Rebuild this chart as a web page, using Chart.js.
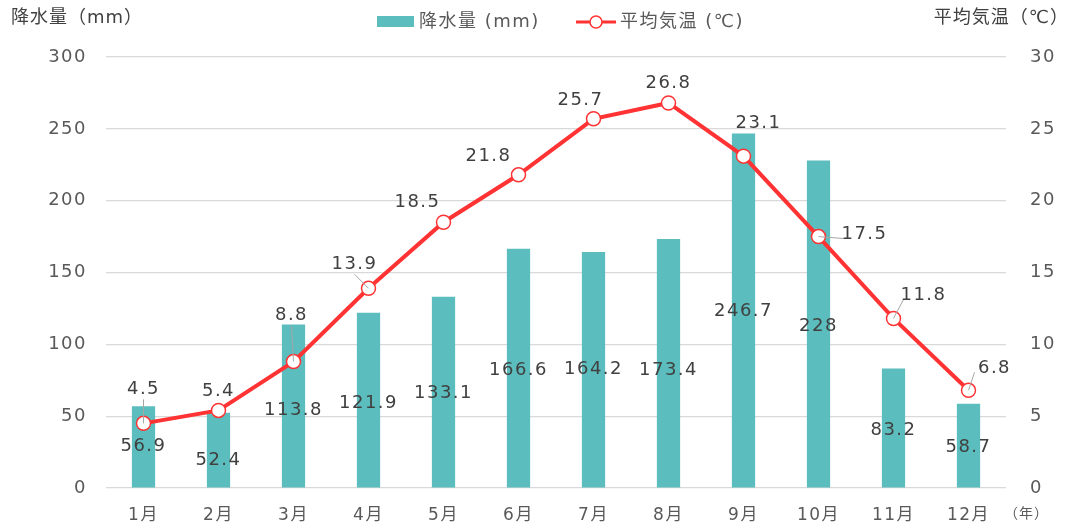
<!DOCTYPE html>
<html>
<head>
<meta charset="utf-8">
<script src="https://cdn.jsdelivr.net/npm/chart.js@4"></script>
<style>
  html, body { margin: 0; padding: 0; background: #fff; }
  #wrap { width: 1072px; height: 529px; }
</style>
</head>
<body>
<div id="wrap"><canvas id="chart"></canvas></div>
<script>
// data
const months = ["1月", "2月", "3月", "4月", "5月", "6月", "7月", "8月", "9月", "10月", "11月", "12月"];
const rainfall = [56.9, 52.4, 113.8, 121.9, 133.1, 166.6, 164.2, 173.4, 246.7, 228, 83.2, 58.7];
const avgTemp = [4.5, 5.4, 8.8, 13.9, 18.5, 21.8, 25.7, 26.8, 23.1, 17.5, 11.8, 6.8];
const rainTicks = [0, 50, 100, 150, 200, 250, 300];
const tempTicks = [0, 5, 10, 15, 20, 25, 30];

// label nudges (pixels), like moved labels in the original
const rainLabelShift = [0, 10, 4, 3, 1, 2, 0, 7, 1, 2, 2, 2];
const tempLabelShift = [[0, -34], [0, -19], [-2, -46], [-14, -24], [-26, -20], [-30, -18],
                        [-13, -18], [0, -20], [15, -33], [46, -2], [30, -23], [26, -22]];
const tempLeader = [true, false, true, true, false, false, false, false, false, true, true, true];

const FONT = "'DejaVu Sans', 'Noto Sans CJK JP', sans-serif";
const TEXT = "#404040";
const SPACING = "1.5px";

const labelPlugin = {
    id: "labels",
    beforeDraw(chart) {
        chart.ctx.letterSpacing = SPACING;
    },
    beforeLayout(chart) {
        chart.ctx.letterSpacing = SPACING;
    },
    afterDatasetsDraw(chart) {
        const ctx = chart.ctx;
        const bars = chart.getDatasetMeta(0).data;
        const pts = chart.getDatasetMeta(1).data;
        ctx.save();
        ctx.letterSpacing = SPACING;
        ctx.font = "18px " + FONT;
        ctx.fillStyle = TEXT;
        ctx.textAlign = "center";
        ctx.textBaseline = "middle";

        bars.forEach((bar, i) => {
            let y = (bar.y + bar.base) / 2 + rainLabelShift[i];
            ctx.fillText(String(rainfall[i]), bar.x, y);
        });

        pts.forEach((pt, i) => {
            let lx = pt.x + tempLabelShift[i][0];
            let ly = pt.y + tempLabelShift[i][1];
            if (tempLeader[i]) {
                // leader line from the label edge to the point
                ctx.strokeStyle = "#a6a6a6";
                ctx.lineWidth = 1;
                ctx.beginPath();
                let dx = pt.x - lx, dy = pt.y - ly;
                let sx = lx, sy = ly;
                if (Math.abs(dx) > Math.abs(dy)) { sx = lx + 20 * Math.sign(dx); sy = ly + 4 * Math.sign(dy); }
                else { sy = ly + 10 * Math.sign(dy); }
                ctx.moveTo(sx, sy);
                ctx.lineTo(pt.x, pt.y);
                ctx.stroke();
            }
            ctx.fillStyle = TEXT;
            ctx.fillText(avgTemp[i].toFixed(1), lx, ly);
        });
        ctx.restore();
    },
    afterDraw(chart) {
        const ctx = chart.ctx;
        ctx.save();
        ctx.letterSpacing = "1px";
        ctx.fillStyle = "#404040";
        ctx.font = "18px " + FONT;
        ctx.textBaseline = "middle";
        // axis titles
        ctx.textAlign = "left";
        ctx.fillText("降水量（mm）", 11, 18);
        ctx.textAlign = "right";
        ctx.fillText("平均気温（℃）", 1069, 18);
        // year mark
        ctx.fillStyle = "#595959";
        ctx.font = "14px " + FONT;
        ctx.textAlign = "left";
        ctx.fillText("（年）", 1004, 514);

        // legend
        ctx.letterSpacing = "1.5px";
        ctx.font = "18px " + FONT;
        ctx.fillStyle = "#5bbdbd";
        ctx.fillRect(377, 16, 37, 11);
        ctx.fillStyle = "#595959";
        ctx.fillText("降水量 (mm)", 419, 22);
        ctx.strokeStyle = "#ff3333";
        ctx.lineWidth = 3;
        ctx.beginPath();
        ctx.moveTo(576, 22);
        ctx.lineTo(616, 22);
        ctx.stroke();
        ctx.fillStyle = "#fff";
        ctx.lineWidth = 1.5;
        ctx.beginPath();
        ctx.arc(596, 22, 6, 0, Math.PI * 2);
        ctx.fill();
        ctx.stroke();
        ctx.fillStyle = "#595959";
        ctx.fillText("平均気温 (℃)", 620, 22);
        ctx.restore();
    }
};

const ctx = document.getElementById("chart").getContext("2d");
new Chart(ctx, {
    type: "bar",
    data: {
        labels: months,
        datasets: [
            {
                type: "bar",
                label: "降水量 (mm)",
                data: rainfall,
                yAxisID: "y",
                backgroundColor: "#5bbdbd",
                barPercentage: 0.62,
                categoryPercentage: 0.5,
                order: 2
            },
            {
                type: "line",
                label: "平均気温 (℃)",
                data: avgTemp,
                yAxisID: "y1",
                borderColor: "#ff3333",
                borderWidth: 4,
                pointRadius: 7,
                pointBorderWidth: 1.5,
                pointBackgroundColor: "#ffffff",
                pointBorderColor: "#ff3333",
                tension: 0,
                order: 1
            }
        ]
    },
    options: {
        responsive: true,
        maintainAspectRatio: false,
        animation: false,
        layout: { padding: { top: 57, left: 0, right: 0, bottom: 0 } },
        plugins: {
            legend: { display: false },
            tooltip: { enabled: false }
        },
        scales: {
            x: {
                grid: { display: false, drawTicks: false },
                border: { display: false },
                ticks: { color: "#595959", font: { size: 17, family: FONT }, padding: 17 },
                afterFit(s) { s.height = 41; }
            },
            y: {
                position: "left",
                min: 0, max: 300,
                afterBuildTicks(s) { s.ticks = rainTicks.map(v => ({ value: v })); },
                grid: { color: "#d9d9d9", lineWidth: 1.2, drawTicks: false },
                border: { display: false },
                ticks: { color: "#595959", font: { size: 18, family: FONT }, padding: 19 },
                afterFit(s) { s.width = 106; }
            },
            y1: {
                position: "right",
                min: 0, max: 30,
                afterBuildTicks(s) { s.ticks = tempTicks.map(v => ({ value: v })); },
                grid: { display: false, drawTicks: false },
                border: { display: false },
                ticks: { color: "#595959", font: { size: 18, family: FONT }, padding: 24 },
                afterFit(s) { s.width = 66; }
            }
        }
    },
    plugins: [labelPlugin]
});
</script>
</body>
</html>
